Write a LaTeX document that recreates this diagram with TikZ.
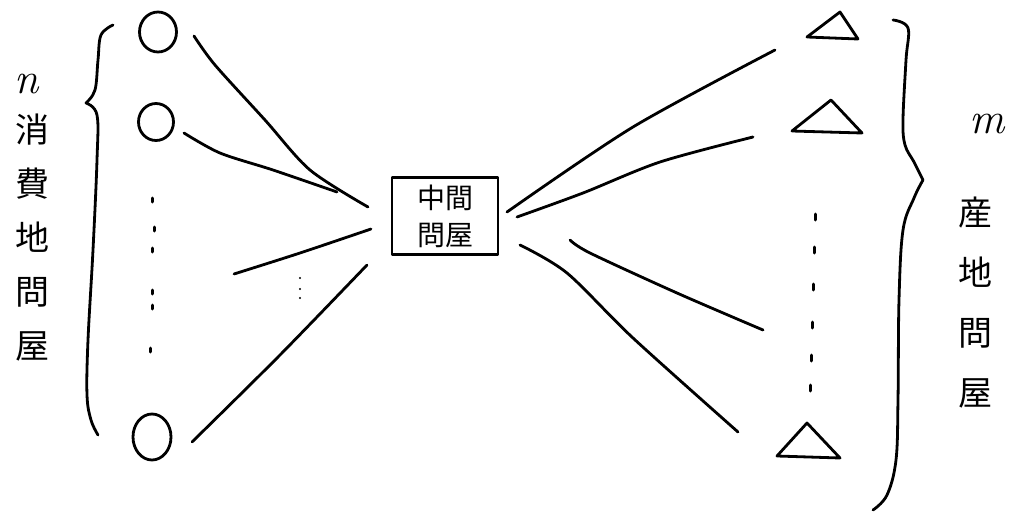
\documentclass[tikz,border=0pt]{standalone}
\usepackage{fontspec}
\newfontfamily\jpfont{Noto Sans CJK JP}
\usetikzlibrary{shapes.geometric}

\begin{document}
\begin{tikzpicture}[x=1pt, y=-1pt,
    pen/.style={line width=2.8pt, line cap=round, line join=round},
    ring/.style={pen, draw, ellipse, inner sep=0pt},
    tick/.style={line width=3pt, line cap=round},
    tate/.style={font=\jpfont\fontsize{34}{54}\selectfont, align=center, inner sep=0pt},
    var/.style={font=\fontsize{44}{44}\selectfont\itshape, inner sep=0pt}]
    \useasboundingbox (0,0) rectangle (1013,514);

    \path
    node[ring, minimum width=37pt, minimum height=40pt] (c1) at (158,32) {}
    node[ring, minimum width=35pt, minimum height=37pt] (c2) at (156,122) {}
    node[ring, minimum width=38pt, minimum height=46pt] (c3) at (152,437) {}
    node[pen, draw, minimum width=106pt, minimum height=77pt,
         font=\jpfont\fontsize{28}{37}\selectfont, align=center] (hub) at (445,216) {中間\\問屋}
    node[var] (n) at (27,84) {n}
    node[tate] (cons) at (33,238) {消\\費\\地\\問\\屋}
    node[var] (m) at (987,124) {m}
    node[tate, font=\jpfont\fontsize{34}{60}\selectfont] (prod) at (975,303) {産\\地\\問\\屋};

    \draw[pen] (840,12) coordinate (t1) -- (807,37) -- (858,39) -- cycle;
    \draw[pen] (831,100) coordinate (t2) -- (792,131) -- (862,133) -- cycle;
    \draw[pen] (807,423) coordinate (t3) -- (777,456) -- (840,458) -- cycle;

    \coordinate (a1) at (194,36);  \coordinate (b1) at (368,207);
    \coordinate (a2) at (184,133); \coordinate (b2) at (337,192);
    \coordinate (a3) at (234,274); \coordinate (b3) at (371,229);
    \coordinate (a4) at (192,442); \coordinate (b4) at (367,265);
    \coordinate (r1) at (507,212); \coordinate (s1) at (775,50);
    \coordinate (r2) at (517,217); \coordinate (s2) at (753,137);
    \coordinate (r3) at (570,240); \coordinate (s3) at (763,330);
    \coordinate (r4) at (520,245); \coordinate (s4) at (738,432);

    \draw[pen] plot[smooth] coordinates {(a1) (215,65) (265,120) (310,170) (b1)};
    \draw[pen] plot[smooth] coordinates {(a2) (220,153) (273,170) (b2)};
    \draw[pen] plot[smooth] coordinates {(a3) (300,253) (b3)};
    \draw[pen] plot[smooth] coordinates {(a4) (280,355) (b4)};
    \draw[pen] plot[smooth] coordinates {(r1) (633,127) (s1)};
    \draw[pen] plot[smooth] coordinates {(r2) (583,193) (660,162) (s2)};
    \draw[pen] plot[smooth] coordinates {(r3) (590,253) (677,293) (s3)};
    \draw[pen] plot[smooth] coordinates {(r4) (567,273) (633,338) (s4)};

    \draw[pen] plot[smooth, tension=0.6] coordinates {(113,25) (101,35) (98,60) (95,90) (86,103)};
    \draw[pen] plot[smooth, tension=0.6] coordinates {(86,103) (97,115) (97,160) (93,250) (88,340) (87,395) (91,420) (98,435)};
    \draw[pen] plot[smooth, tension=0.6] coordinates {(893,20) (908,28) (906,60) (903,120) (905,145) (914,162) (923,180)};
    \draw[pen] plot[smooth, tension=0.6] coordinates {(923,180) (914,198) (903,230) (899,300) (898,400) (896,460) (887,495) (873,510)};

    \foreach \x/\y in {152/200, 154/229, 152/250, 152/292, 152/307, 150/350}
        \draw[tick] (\x,\y-2) -- (\x,\y+2);
    \foreach \x/\y in {815/217, 814/250, 813/287, 812/325, 811/358, 810/388}
        \draw[tick] (\x,\y-3) -- (\x,\y+3);
    \foreach \y in {278,289,298}
        \fill (300,\y) circle (1.1pt);
\end{tikzpicture}
\end{document}
